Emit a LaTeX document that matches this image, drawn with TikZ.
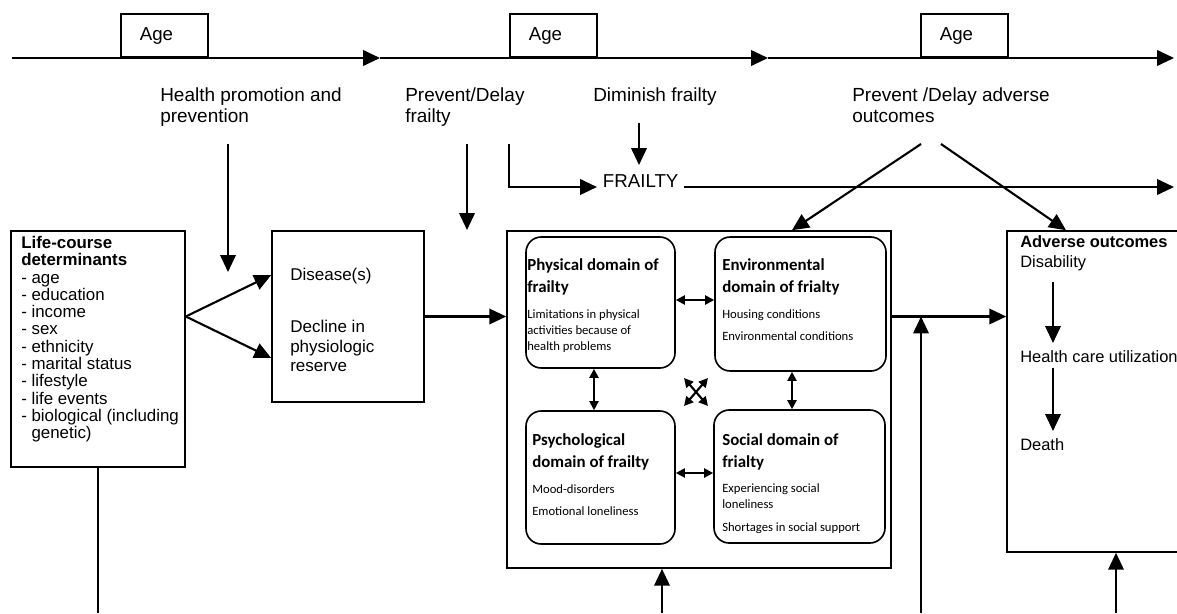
\documentclass[tikz,border=0pt]{standalone}
\usepackage{fontspec}
\setmainfont{Liberation Sans}
\newfontfamily\calibri{Carlito}
\usetikzlibrary{arrows.meta,fit,positioning}

\begin{document}
\begin{tikzpicture}[x=0.025cm, y=-0.025cm,
  box/.style={draw, line width=1.15pt, inner sep=0pt},
  dombox/.style={box, rounded corners=0.38cm},
  arr/.style={line width=1.5pt, -{Triangle[length=12pt,width=11pt]}},
  dbl/.style={line width=1.5pt, {Triangle[length=6.5pt,width=6.5pt]}-{Triangle[length=6.5pt,width=6.5pt]}},
  lbl/.style={anchor=north west, inner sep=0pt, align=left, font=\fontsize{13.5}{15.6}\selectfont},
  boxtxt/.style={anchor=north west, inner sep=0pt, align=left, font=\fontsize{12}{12.3}\selectfont},
  domtitle/.style={anchor=north west, inner sep=0pt, align=left, font=\calibri\bfseries\fontsize{12}{15.6}\selectfont},
  dombody/.style={anchor=north west, inner sep=0pt, align=left, font=\calibri\fontsize{9}{11.2}\selectfont},
  agebox/.style={box, anchor=south west, minimum width=2.18cm, minimum height=1.08cm, text width=1.23cm, align=left, font=\fontsize{13.3}{15}\selectfont}
]
  % Page
  \useasboundingbox (0,0) rectangle (1177,613);
  \fill[white] (0,0) rectangle (1177,613);
  \clip (0,0) rectangle (1177,613);

  % Time line with age boxes
  \foreach \a/\b in {12/380,380/768,768/1174} {
    \draw[arr] (\a,58) -- (\b,58);
  }
  \foreach \ax [count=\i] in {120,509,920} {
    \node[agebox] (age\i) at (\ax,58) {Age};
  }

  % Interventions
  \node[lbl] (hp) at (160,87) {Health promotion and\\prevention};
  \node[lbl] (pd) at (405,87) {Prevent/Delay\\frailty};
  \node[lbl] (df) at (593,87) {Diminish frailty};
  \node[lbl] (pda) at (852,87) {Prevent /Delay adverse\\outcomes};

  \coordinate (hpA) at (228,144);
  \coordinate (hpB) at (228,272);
  \coordinate (pdA) at (467,144);
  \coordinate (pdB) at (467,230);
  \coordinate (pdL) at (509,144);
  \coordinate (dfA) at (639,123);
  \coordinate (dfB) at (639,165);
  \coordinate (pdaL) at (921,144);
  \coordinate (pdaR) at (941,144);
  \coordinate (frEnd) at (1174,187);

  % Frailty line
  \node[anchor=base west, inner xsep=4pt, inner ysep=0pt, font=\fontsize{13.3}{15}\selectfont] (frailty) at (597,187) {FRAILTY};

  % Boxes
  \node[box, fit={(11,231) (185,467)}] (life) {};
  \node[box, fit={(272,231) (424,402)}] (disease) {};
  \node[box, fit={(507,231) (891,568)}] (frailbox) {};
  \node[box, fit={(1007,231) (1220,552)}] (adverse) {};

  % Domains of frailty
  \node[dombox, fit={(526,237) (675,368)}] (phys) {};
  \node[dombox, fit={(715,237) (886,371)}] (env) {};
  \node[dombox, fit={(526,411) (675,544)}] (psy) {};
  \node[dombox, fit={(714,410) (885,543)}] (soc) {};

  \node[domtitle] (physT) at (527,258.5) {Physical domain of\\frailty};
  \node[dombody] (physB) at (527,309.5) {Limitations in physical\\activities because of\\health problems};
  \node[domtitle] (envT) at (722,258.5) {Environmental\\domain of frialty};
  \node[dombody] (envB) at (722,309.5) {Housing conditions\\[4.4pt]Environmental conditions};
  \node[domtitle] (psyT) at (532,433.5) {Psychological\\domain of frailty};
  \node[dombody] (psyB) at (532,484.5) {Mood-disorders\\[4.4pt]Emotional loneliness};
  \node[domtitle] (socT) at (722,433.5) {Social domain of\\frialty};
  \node[dombody] (socB) at (722,483.5) {Experiencing social\\loneliness\\[5pt]Shortages in social support};

  % Box texts
  \node[boxtxt] (lifeT) at (21,236) {\textbf{Life-course}\\\textbf{determinants}\\- age\\- education\\- income\\- sex\\- ethnicity\\- marital status\\- lifestyle\\- life events\\- biological (including\\\hphantom{- }genetic)};
  \node[boxtxt, font=\fontsize{12.1}{13.9}\selectfont] (dis1) at (290,268) {Disease(s)};
  \node[boxtxt, font=\fontsize{12.1}{13.9}\selectfont] (dis2) at (290,320) {Decline in\\physiologic\\reserve};
  \node[boxtxt, font=\fontsize{11.7}{14.2}\selectfont] (advT) at (1020,235) {\textbf{Adverse outcomes}\\Disability};
  \node[boxtxt, font=\fontsize{11.7}{14.2}\selectfont] (hcu) at (1020,350) {Health care utilization};
  \node[boxtxt, font=\fontsize{11.7}{14.2}\selectfont] (death) at (1020,438) {Death};

  % Arrows from the interventions
  \draw[arr] (hpA) -- (hpB);
  \draw[arr] (pdA) -- (pdB);
  \draw[arr] (pdL) |- (frailty.base west);
  \draw[arr] (dfA) -- (dfB);
  \draw[arr] (frailty.base east) -- (frEnd);
  \draw[arr] (pdaL) -- (792,0 |- frailbox.north);
  \draw[arr] (pdaR) -- (1066,0 |- adverse.north);

  % Pathway
  \draw[arr] (life.east |- disease.east) -- (disease.west |- 0,275);
  \draw[arr] (life.east |- disease.east) -- (disease.west |- 0,358);
  \draw[arr] (disease.east) -- (disease.east -| frailbox.west);
  \draw[arr] (frailbox.east |- disease.east) -- (adverse.west |- disease.east);

  % Between the domains
  \draw[dbl] (phys.east |- 0,300) -- (env.west |- 0,300);
  \draw[dbl] (psy.east |- 0,473) -- (soc.west |- 0,473);
  \draw[dbl] (594,0 |- phys.south) -- (594,0 |- psy.north);
  \draw[dbl] (792,0 |- env.south) -- (792,0 |- soc.north);
  \coordinate (xc) at (696,392);
  \draw[dbl] ([shift={(-12,-14)}]xc) -- ([shift={(12,14)}]xc);
  \draw[dbl] ([shift={(12,-14)}]xc) -- ([shift={(-12,14)}]xc);

  % Adverse outcomes chain
  \draw[arr, shorten <=8pt, shorten >=5pt] (advT.south -| 1053,0) -- (hcu.north -| 1053,0);
  \draw[arr, shorten <=3.5pt, shorten >=5pt] (hcu.south -| 1053,0) -- (death.north -| 1053,0);

  % From below
  \coordinate (bot) at (0,613);
  \draw[line width=1.5pt] (life.south) -- (life.south |- bot);
  \draw[arr] (662,613) -- (662,0 |- frailbox.south);
  \draw[arr] (921,613) -- (921,0 |- disease.east);
  \draw[arr] (1116,613) -- (1116,0 |- adverse.south);
\end{tikzpicture}
\end{document}
